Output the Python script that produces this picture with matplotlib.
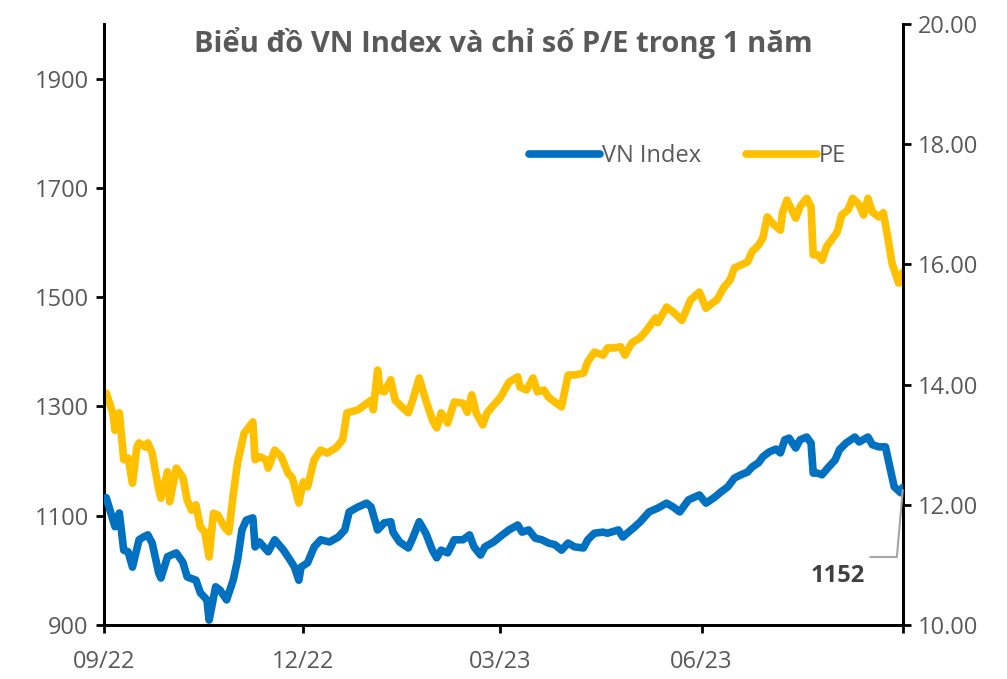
import matplotlib
matplotlib.use("Agg")
import matplotlib.pyplot as plt
import pandas as pd

plt.rcParams['font.family'] = ['Open Sans', 'DejaVu Sans']

start = pd.Timestamp("2022-09-01")

vn_days = [1, 5, 7, 9, 11, 13, 16, 18, 20, 22, 25, 26, 29, 33, 36, 38, 42, 44, 47, 48,
           51, 53, 56, 59, 61, 63, 65, 68, 69, 71, 73, 75, 78, 82, 85, 87, 89, 90, 93, 96,
           99, 103, 107, 110, 112, 116, 120, 122, 125, 128, 131, 132, 135, 139, 141, 144,
           147, 150, 152, 154, 157, 160, 164, 167, 169, 172, 174, 178, 182, 185, 189, 191,
           194, 197, 200, 203, 206, 209, 212, 215, 219, 221, 224, 228, 230, 235, 237, 239,
           242, 245, 249, 253, 257, 260, 263, 267, 272, 275, 279, 282, 285, 288, 291, 294,
           296, 299, 301, 304, 307, 309, 311, 313, 316, 318, 321, 323, 324, 326, 328, 331,
           334, 336, 339, 343, 345, 349, 351, 354, 357, 359, 361, 364, 365]
vn_index = [1133, 1080, 1105, 1037, 1034, 1006, 1056, 1061, 1065, 1050, 995, 986, 1025, 1032,
            1015, 988, 982, 959, 946, 909, 970, 964, 946, 982, 1019, 1074, 1092, 1096, 1043,
            1052, 1043, 1034, 1056, 1037, 1019, 1006, 982, 1006, 1014, 1043, 1056, 1052, 1061,
            1074, 1107, 1116, 1123, 1116, 1074, 1087, 1089, 1070, 1052, 1041, 1059, 1089, 1068,
            1037, 1023, 1037, 1032, 1056, 1056, 1065, 1043, 1028, 1043, 1052, 1065, 1074, 1083,
            1070, 1074, 1059, 1056, 1050, 1047, 1037, 1050, 1043, 1041, 1056, 1068, 1070, 1068,
            1074, 1061, 1068, 1078, 1089, 1107, 1114, 1123, 1116, 1107, 1129, 1138, 1123, 1134,
            1144, 1153, 1169, 1175, 1180, 1189, 1197, 1208, 1217, 1222, 1215, 1239, 1242, 1224,
            1239, 1244, 1233, 1178, 1178, 1175, 1189, 1202, 1221, 1233, 1244, 1235, 1244, 1230,
            1226, 1226, 1189, 1153, 1142, 1152]

pe_days = [1, 4, 5, 7, 9, 11, 13, 15, 16, 19, 20, 22, 25, 26, 29, 30, 33, 36, 38, 40,
           42, 44, 46, 48, 50, 52, 55, 57, 59, 61, 64, 68, 69, 71, 74, 75, 78, 81, 84, 86,
           89, 91, 93, 96, 99, 102, 106, 109, 111, 116, 119, 122, 123, 125, 126, 128, 131,
           133, 136, 139, 141, 144, 147, 150, 152, 154, 157, 160, 164, 166, 168, 170, 173,
           175, 178, 181, 183, 185, 189, 190, 193, 196, 198, 201, 203, 206, 209, 212, 215,
           219, 221, 224, 228, 230, 233, 236, 238, 241, 245, 248, 252, 253, 257, 260, 264,
           268, 272, 275, 278, 280, 283, 286, 288, 291, 294, 296, 299, 301, 303, 306, 309,
           310, 312, 316, 318, 321, 323, 324, 326, 328, 330, 333, 335, 337, 340, 342, 345,
           347, 349, 351, 354, 356, 358, 360, 363, 365]
pe_ratio = [13.86, 13.53, 13.24, 13.53, 12.75, 12.78, 12.36, 12.96, 13.03, 12.96, 13.03,
            12.86, 12.25, 12.11, 12.55, 12.05, 12.61, 12.46, 12.08, 11.91, 12.00, 11.63,
            11.55, 11.13, 11.86, 11.83, 11.63, 11.55, 12.16, 12.70, 13.19, 13.38, 12.75,
            12.80, 12.75, 12.61, 12.91, 12.80, 12.53, 12.45, 12.03, 12.38, 12.30, 12.75,
            12.91, 12.86, 12.95, 13.08, 13.53, 13.58, 13.66, 13.74, 13.58, 14.24, 13.91,
            13.88, 14.08, 13.74, 13.63, 13.53, 13.74, 14.11, 13.74, 13.41, 13.28, 13.53,
            13.36, 13.71, 13.69, 13.54, 13.83, 13.53, 13.33, 13.53, 13.66, 13.78, 13.91,
            14.04, 14.13, 13.96, 13.91, 14.11, 13.88, 13.91, 13.79, 13.71, 13.63, 14.16,
            14.16, 14.19, 14.38, 14.54, 14.49, 14.61, 14.61, 14.63, 14.49, 14.69, 14.78,
            14.91, 15.11, 15.03, 15.29, 15.21, 15.07, 15.41, 15.54, 15.27, 15.36, 15.41,
            15.61, 15.74, 15.94, 15.99, 16.04, 16.21, 16.32, 16.44, 16.79, 16.66, 16.57,
            16.87, 17.07, 16.77, 16.96, 17.10, 16.96, 16.16, 16.16, 16.07, 16.29, 16.44,
            16.54, 16.82, 16.91, 17.10, 16.99, 16.82, 17.10, 16.87, 16.79, 16.86, 16.46,
            16.02, 15.69, 15.87]

tick_dates = ["2022-09-01", "2022-12-01", "2023-03-01", "2023-06-01", "2023-09-01"]
tick_labels = ["09/22", "12/22", "03/23", "06/23", ""]

vn_dates = start + pd.to_timedelta(vn_days, unit="D")
pe_dates = start + pd.to_timedelta(pe_days, unit="D")

grey = "#595959"
blue = "#0070C0"
gold = "#FFC000"

fig = plt.figure(figsize=(10.07, 6.79), dpi=100)
ax = fig.add_axes([0.1033, 0.0795, 0.7934, 0.8852])
ax2 = ax.twinx()

l1, = ax.plot(vn_dates, vn_index, color=blue, lw=5.5, solid_capstyle="round",
              solid_joinstyle="round", label="VN Index", zorder=3)
l2, = ax2.plot(pe_dates, pe_ratio, color=gold, lw=5.5, solid_capstyle="round",
               solid_joinstyle="round", label="PE", zorder=2)
ax.set_zorder(ax2.get_zorder() + 1)
ax.patch.set_visible(False)

ax.set_ylim(900, 2000)
ax.set_yticks([900, 1100, 1300, 1500, 1700, 1900])
ax2.set_ylim(10, 20)
ax2.set_yticks([10, 12, 14, 16, 18, 20])
ax2.set_yticklabels([f"{v:.2f}" for v in [10, 12, 14, 16, 18, 20]])

xt = pd.to_datetime(tick_dates)
ax.set_xlim(start, xt[-1])
ax.set_xticks(xt)
ax.set_xticklabels(tick_labels)

for a in (ax, ax2):
    a.spines["top"].set_visible(False)
    for s in a.spines.values():
        s.set_linewidth(2)
        s.set_color("black")
    a.tick_params(colors="black", labelcolor=grey, labelsize=17, width=2, length=6)
ax.tick_params(axis="x", pad=12)
ax.tick_params(axis="y", pad=5)
ax2.tick_params(axis="y", pad=5)

ax.set_title("Biểu đồ VN Index và chỉ số P/E trong 1 năm", color=grey,
             fontsize=21, fontweight="bold", pad=-20, y=1.0)

ax.legend(handles=[l1, l2], loc="upper left", bbox_to_anchor=(0.505, 0.835), ncol=2,
          frameon=False, fontsize=17, labelcolor=grey, handlelength=3.0,
          handletextpad=0.1, columnspacing=1.9)

ax.annotate(f"{vn_index[-1]}", xy=(vn_dates[-1], vn_index[-1]),
            xytext=(-47, -64), textcoords="offset points", ha="center", va="center",
            fontsize=17, fontweight="bold", color="#404040",
            arrowprops=dict(arrowstyle="-", color="#A6A6A6", lw=1.5,
                            relpos=(1.1, 1.3), shrinkA=0, shrinkB=2,
                            connectionstyle="angle,angleA=0,angleB=85,rad=0"))

fig.savefig("out.png", dpi=100)
